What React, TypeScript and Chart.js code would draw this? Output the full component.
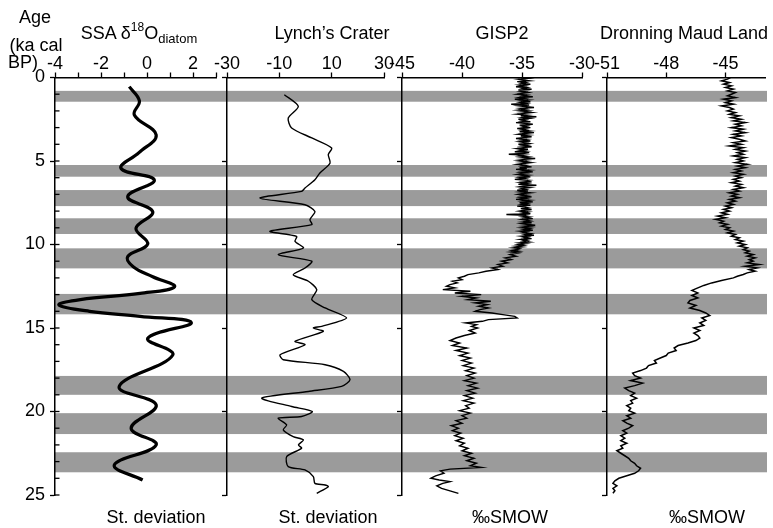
import React, { useEffect, useRef } from 'react';
import { Chart, registerables } from 'chart.js';
Chart.register(...registerables);

const W = 773;
const H = 528;
const FONT = '"Liberation Sans", Arial, Helvetica, sans-serif';

// Grey bands (ka cal BP)
const bandStarts = [0.8, 5.24, 6.74, 8.43, 10.23, 12.96, 17.87, 20.1, 22.44];
const bandEnds = [1.45, 5.94, 7.7, 9.37, 11.43, 14.18, 19.0, 21.35, 23.64];

// SSA d18O diatom (st. deviation)
const ssaAges = [0.55, 1.4, 2.25, 3.44, 4.5, 5.44, 6.14, 7.14, 8.04, 9.03, 9.97, 10.73, 11.33, 11.93, 12.53, 12.93, 13.3, 13.62, 14.0, 14.3, 14.68, 15.62, 16.62, 18.51, 19.61, 21.0, 22.0, 23.2, 24.1];
const ssaValues = [-0.77, -0.33, -0.55, 0.4, -0.35, -1.13, 0.32, -0.84, 0.25, -0.48, 0.03, -0.84, -0.6, 0.25, 1.2, -0.3, -2.9, -3.83, -2.5, -0.3, 1.93, 0.03, 1.12, -1.21, 0.4, -0.69, 0.4, -1.42, -0.19];

// Lynch's Crater (st. deviation)
const lynchAges = [1.03, 1.73, 2.43, 3.02, 3.62, 4.22, 4.62, 5.12, 5.72, 6.12, 6.62, 6.82, 7.22, 7.62, 8.02, 8.51, 8.81, 9.21, 9.51, 9.81, 10.21, 10.61, 11.0, 11.41, 11.81, 12.2, 12.7, 13.3, 13.8, 14.4, 14.9, 15.0, 15.2, 15.8, 16.0, 16.6, 16.9, 17.2, 17.6, 18.1, 18.5, 18.8, 19.2, 19.7, 20.0, 20.3, 20.4, 20.8, 21.1, 21.5, 21.7, 22.0, 22.2, 22.7, 23.3, 23.5, 23.9, 24.3, 24.4, 24.5, 24.9];
const lynchValues = [-8.1, -2.75, -6.6, -5.3, 2.4, 10.0, 8.7, 9.4, 5.5, 3.6, -0.2, -1.5, -17.4, -0.2, 3.6, 1.7, 2.4, -13.6, -3.4, -4.0, -0.8, -10.4, 2.4, -0.2, -4.7, 1.1, 4.3, 2.4, 7.5, 15.7, 6.2, 3.0, 6.8, -4.0, -0.2, -9.7, -8.5, 7.5, 14.5, 17.0, 13.8, 1.1, -16.7, -5.3, 2.6, -1.5, -10.4, -7.2, -8.5, -4.7, -0.8, -2.7, -1.5, -7.2, -6.6, -0.2, 3.0, 3.6, 7.5, 8.7, 4.3];

// GISP2 (permil SMOW)
const gispAges = [
  0, 0.05, 0.1, 0.15, 0.2, 0.25, 0.3, 0.35, 0.4, 0.45, 0.5, 0.55, 0.6, 0.65, 0.7, 0.75, 0.8, 0.85, 0.9, 0.95,
  1.0, 1.05, 1.1, 1.15, 1.2, 1.25, 1.3, 1.35, 1.4, 1.45, 1.5, 1.55, 1.6, 1.65, 1.7, 1.75, 1.8, 1.85, 1.9, 1.95,
  2.0, 2.05, 2.1, 2.15, 2.2, 2.25, 2.3, 2.35, 2.4, 2.45, 2.5, 2.55, 2.6, 2.65, 2.7, 2.75, 2.8, 2.85, 2.9, 2.95,
  3.0, 3.05, 3.1, 3.15, 3.2, 3.25, 3.3, 3.35, 3.4, 3.45, 3.5, 3.55, 3.6, 3.65, 3.7, 3.75, 3.8, 3.85, 3.9, 3.95,
  4.0, 4.05, 4.1, 4.15, 4.2, 4.25, 4.3, 4.35, 4.4, 4.45, 4.5, 4.55, 4.6, 4.65, 4.7, 4.75, 4.8, 4.85, 4.9, 4.95,
  5.0, 5.05, 5.1, 5.15, 5.2, 5.25, 5.3, 5.35, 5.4, 5.45, 5.5, 5.55, 5.6, 5.65, 5.7, 5.75, 5.8, 5.85, 5.9, 5.95,
  6.0, 6.05, 6.1, 6.15, 6.2, 6.25, 6.3, 6.35, 6.4, 6.45, 6.5, 6.55, 6.6, 6.65, 6.7, 6.75, 6.8, 6.85, 6.9, 6.95,
  7.0, 7.05, 7.1, 7.15, 7.2, 7.25, 7.3, 7.35, 7.4, 7.45, 7.5, 7.55, 7.6, 7.65, 7.7, 7.75, 7.8, 7.85, 7.9, 7.95,
  8.0, 8.05, 8.1, 8.15, 8.2, 8.25, 8.3, 8.35, 8.4, 8.45, 8.5, 8.55, 8.6, 8.65, 8.7, 8.75, 8.8, 8.85, 8.9, 8.95,
  9.0, 9.05, 9.1, 9.15, 9.2, 9.25, 9.3, 9.35, 9.4, 9.45, 9.5, 9.55, 9.6, 9.65, 9.7, 9.75, 9.8, 9.85, 9.9, 9.95,
  10.0, 10.05, 10.1, 10.15, 10.2, 10.25, 10.3, 10.35, 10.4, 10.45,
  10.5, 10.6, 10.7, 10.8, 10.9, 11.0, 11.1, 11.2, 11.3, 11.4, 11.5, 11.6, 11.7, 11.8, 11.9,
  12.0, 12.1, 12.2, 12.3, 12.4, 12.5, 12.6, 12.7, 12.8,
  12.9, 13.0, 13.1, 13.2, 13.3, 13.4, 13.5, 13.6, 13.7, 13.8, 13.9, 14.0, 14.1, 14.2, 14.3, 14.4, 14.5, 14.6, 14.7, 14.8, 14.9, 15.0,
  15.15, 15.3, 15.45, 15.6, 15.75, 15.9, 16.05, 16.2, 16.35, 16.5, 16.65, 16.8, 16.95, 17.1, 17.25, 17.4, 17.55, 17.7, 17.85, 18.0,
  18.15, 18.3, 18.45, 18.6, 18.75, 18.9, 19.05, 19.2, 19.35, 19.5, 19.65, 19.8, 19.95, 20.1, 20.25, 20.4, 20.55, 20.7, 20.85, 21.0,
  21.15, 21.3, 21.45, 21.6, 21.75, 21.9, 22.05, 22.2, 22.35, 22.5, 22.65, 22.8, 22.95, 23.1, 23.25, 23.35, 23.45, 23.55, 23.7, 23.85,
  24.0, 24.1, 24.2, 24.3, 24.45, 24.6, 24.75, 24.9
];
const gispValues = [
  -35.1, -34.5, -35.3, -34.9, -34.4, -35.4, -34.7, -35.0, -34.3, -35.2, -34.8, -35.5, -34.6, -34.9, -34.2, -35.3, -34.7, -35.1, -34.5, -35.0,
  -35.4, -34.6, -34.9, -34.1, -35.2, -34.8, -35.6, -34.5, -35.0, -34.3, -35.1, -34.7, -35.9, -34.4, -35.2, -34.6, -34.0, -35.1, -34.7, -35.3,
  -34.5, -35.0, -34.2, -34.8, -35.4, -34.6, -35.1, -33.8, -34.9, -34.4, -35.3, -34.7, -35.0, -34.3, -35.5, -34.8, -34.1, -35.2, -34.6, -34.9,
  -34.3, -35.4, -34.7, -35.0, -34.4, -35.2, -34.0, -34.8, -35.3, -34.5, -35.1, -34.2, -34.9, -35.5, -34.6, -35.0, -34.3, -35.2, -34.8, -34.4,
  -35.3, -34.6, -35.0, -34.2, -34.9, -35.4, -34.5, -35.1, -34.7, -35.6, -34.4, -34.9, -36.1, -34.8, -35.2, -34.5, -35.0, -33.9, -34.8, -35.3,
  -34.6, -35.1, -34.3, -34.9, -35.4, -34.7, -35.0, -34.2, -35.2, -34.6, -35.5, -34.4, -34.9, -34.1, -35.1, -34.7, -35.3, -34.5, -35.0, -34.3,
  -35.2, -34.8, -35.6, -34.5, -34.9, -34.2, -35.1, -34.6, -35.3, -33.8, -34.8, -35.2, -34.4, -35.0, -34.7, -35.4, -34.5, -35.1, -34.3, -34.9,
  -35.3, -34.6, -35.0, -34.2, -35.1, -34.7, -35.5, -34.4, -34.9, -34.1, -35.2, -34.6, -35.0, -34.3, -35.4, -34.8, -34.5, -35.1, -34.2, -34.8,
  -35.2, -34.5, -34.9, -34.3, -36.3, -34.7, -35.0, -34.4, -34.8, -34.1, -35.0, -34.6, -34.3, -34.9, -34.2, -35.0, -34.5, -33.9, -34.8, -34.3,
  -35.0, -34.4, -34.8, -34.1, -35.1, -34.6, -34.9, -34.3, -34.7, -34.0, -35.0, -34.5, -34.8, -34.2, -35.1, -34.6, -34.9, -34.4, -35.2, -34.7,
  -35.3, -34.9, -35.5, -35.0, -35.7, -35.2, -35.4, -35.8, -35.3, -35.9,
  -35.3, -36.0, -35.5, -36.4, -35.9, -36.7, -36.2, -37.0, -36.6, -37.5, -37.0, -38.0, -38.6, -39.5, -39.8,
  -40.3, -40.0, -40.8, -40.4, -41.0, -41.3, -40.6, -41.6, -39.3,
  -40.6, -38.4, -40.0, -38.8, -39.5, -37.6, -38.9, -37.9, -38.6, -37.8, -38.5, -38.9, -37.5, -36.6, -35.6, -35.4, -37.8, -38.3, -39.7, -38.8, -39.2, -38.7,
  -39.4, -38.9, -39.8, -40.5, -41.0, -40.2, -40.8, -39.6, -40.5, -39.5, -40.2, -39.3, -40.0, -39.2, -39.9, -39.0, -39.7, -38.9, -39.6, -39.0,
  -39.8, -38.8, -39.5, -38.7, -39.6, -38.9, -39.8, -39.1, -39.9, -39.0, -39.7, -39.4, -40.2, -39.3, -40.0, -39.6, -40.5, -40.0, -40.9, -40.3,
  -40.8, -40.1, -40.6, -39.9, -40.5, -39.8, -40.2, -39.5, -40.0, -39.2, -39.8, -39.0, -39.6, -38.8, -39.3, -38.4, -41.0, -41.8, -41.5, -42.2,
  -42.6, -41.9, -41.0, -41.6, -42.1, -41.7, -41.0, -40.3
];

// Dronning Maud Land (permil SMOW)
const dmlAges = [
  0, 0.1, 0.2, 0.3, 0.4, 0.5, 0.6, 0.7, 0.8, 0.9, 1.0, 1.1, 1.2, 1.3, 1.4, 1.5, 1.6, 1.7, 1.8, 1.9,
  2.0, 2.1, 2.2, 2.3, 2.4, 2.5, 2.6, 2.7, 2.8, 2.9, 3.0, 3.1, 3.2, 3.3, 3.4, 3.5, 3.6, 3.7, 3.8, 3.9,
  4.0, 4.1, 4.2, 4.3, 4.4, 4.5, 4.6, 4.7, 4.8, 4.9, 5.0, 5.1, 5.2, 5.3, 5.4, 5.5, 5.6, 5.7, 5.8, 5.9,
  6.0, 6.1, 6.2, 6.3, 6.4, 6.5, 6.6, 6.7, 6.8, 6.9, 7.0, 7.1, 7.2, 7.3, 7.4, 7.5, 7.6, 7.7, 7.8, 7.9,
  8.0, 8.1, 8.2, 8.3, 8.4, 8.5, 8.6, 8.7, 8.8, 8.9, 9.0, 9.1, 9.2, 9.3, 9.4, 9.5, 9.6, 9.7, 9.8, 9.9,
  10.0, 10.1, 10.2, 10.3, 10.4, 10.5, 10.6, 10.7, 10.8, 10.9, 11.0, 11.1, 11.2, 11.3, 11.4, 11.5, 11.6, 11.7, 11.8, 11.9,
  12.0, 12.15, 12.3, 12.45, 12.6, 12.75, 12.9, 13.05, 13.2, 13.35, 13.5, 13.65, 13.8, 13.95, 14.1, 14.25, 14.4, 14.55, 14.7, 14.85,
  15.0, 15.15, 15.3, 15.45, 15.6, 15.75, 15.9, 16.05, 16.2, 16.35, 16.5, 16.65, 16.8, 16.95, 17.1, 17.25, 17.4, 17.55, 17.7, 17.85,
  18.0, 18.15, 18.3, 18.45, 18.6, 18.75, 18.9, 19.05, 19.2, 19.35, 19.5, 19.65, 19.8, 19.95, 20.1, 20.25, 20.4, 20.55, 20.7, 20.85,
  21.0, 21.15, 21.3, 21.45, 21.6, 21.75, 21.9, 22.05, 22.2, 22.35, 22.5, 22.65, 22.8, 22.95, 23.1, 23.25, 23.4, 23.55, 23.7, 23.85,
  24.0, 24.15, 24.3, 24.45, 24.6, 24.75, 24.9
];
const dmlValues = [
  -44.75, -44.9, -45.2, -44.8, -45.1, -44.7, -45.0, -44.6, -44.9, -44.5, -44.7, -44.9, -44.5, -45.1, -44.7, -45.0, -44.6, -45.2, -44.8, -44.6,
  -44.9, -44.5, -44.8, -44.3, -44.7, -44.2, -44.6, -44.0, -44.5, -44.2, -44.7, -44.1, -44.5, -44.0, -44.6, -44.2, -44.7, -44.3, -44.0, -44.6,
  -44.2, -44.8, -44.1, -44.5, -44.0, -44.4, -44.1, -44.6, -44.0, -44.4, -44.1, -44.5, -43.9, -44.4, -44.0, -44.5, -44.2, -44.6, -44.1, -44.5,
  -44.2, -44.6, -44.3, -44.7, -44.2, -44.5, -44.1, -44.6, -44.3, -44.8, -44.4, -44.7, -44.3, -44.8, -44.5, -44.9, -44.6, -45.0, -44.7, -45.1,
  -44.8, -45.2, -44.9, -45.4, -45.0, -45.5, -45.1, -45.3, -44.9, -45.2, -44.8, -45.0, -44.6, -44.9, -44.5, -44.7, -44.3, -44.5, -44.1, -44.4,
  -44.0, -44.3, -43.9, -44.1, -43.8, -44.0, -43.6, -43.9, -43.5, -43.8, -43.6, -43.9, -43.3, -44.0, -43.4, -43.8, -43.5, -43.9, -44.1, -44.4,
  -44.6, -45.2, -45.7, -46.1, -46.4, -46.7, -46.4, -46.7, -46.4, -46.8, -46.9, -46.5, -46.8, -46.3, -46.0, -45.8, -46.2, -46.0, -46.3, -46.1,
  -46.6, -46.3, -46.6, -46.4, -46.3, -46.5, -46.9, -47.4, -47.6, -47.5, -47.9, -48.0, -48.3, -48.6, -48.5, -48.9, -49.0, -49.3, -49.7, -49.6,
  -49.3, -49.8, -49.2, -49.6, -50.1, -49.9, -49.6, -49.8, -49.5, -49.8, -49.7, -50.0, -49.8, -49.9, -49.6, -50.0, -49.8, -50.2, -50.0, -49.7,
  -49.9, -50.2, -50.0, -50.3, -50.1, -50.3, -50.0, -50.3, -50.2, -50.5, -50.3, -50.1, -49.9, -49.8, -49.6, -49.5, -49.3, -49.4, -49.6, -50.0,
  -50.4, -50.6, -50.7, -50.5, -50.7, -50.6, -50.7
];

// Axis ranges
const ssaRange = [-4, 3];
const lynchRange = [-30, 30];
const gispRange = [-45, -30];
const dmlRange = [-51, -43];

type PanelCfg = {
  ages: number[];
  values: number[];
  min: number;
  max: number;
  step: number;
  labelEvery: number;
  padLeft: number;
  yWidth: number;
  right: number;
  lineWidth: number;
  tension: number;
  first: boolean;
};

const PLOT_TOP = 77.5;
const PLOT_BOTTOM = 495;

function Panel({ cfg }: { cfg: PanelCfg }) {
  const ref = useRef<HTMLCanvasElement | null>(null);
  useEffect(() => {
    if (!ref.current) return;
    const tickFont = { family: FONT, size: 18 };
    const bandPlugin = {
      id: 'bands',
      beforeDraw(chart: any) {
        if (!cfg.first) return;
        const { ctx, chartArea } = chart;
        const ys = chart.scales.y;
        ctx.save();
        ctx.fillStyle = '#9b9b9b';
        for (let i = 0; i < bandStarts.length; i++) {
          const y1 = ys.getPixelForValue(bandStarts[i]);
          const y2 = ys.getPixelForValue(bandEnds[i]);
          ctx.fillRect(chartArea.left, y1, 767 - chartArea.left, y2 - y1);
        }
        ctx.restore();
      },
      afterDraw(chart: any) {
        if (!cfg.first) return;
        const { ctx, chartArea } = chart;
        const ys = chart.scales.y;
        ctx.save();
        ctx.strokeStyle = '#000';
        ctx.lineWidth = 1.3;
        for (let v = 1; v <= 25; v++) {
          const y = ys.getPixelForValue(v);
          ctx.beginPath();
          ctx.moveTo(chartArea.left, y);
          ctx.lineTo(chartArea.left + 4.5, y);
          ctx.stroke();
        }
        ctx.restore();
      },
    };
    const data = cfg.ages.map((a, i) => ({ x: cfg.values[i], y: a }));
    const chart = new Chart(ref.current, {
      type: 'line',
      data: {
        datasets: [
          {
            data,
            borderColor: '#000',
            borderWidth: cfg.lineWidth,
            pointRadius: 0,
            tension: cfg.tension,
            fill: false,
          },
        ],
      },
      options: {
        animation: false,
        responsive: false,
        maintainAspectRatio: false,
        indexAxis: 'y',
        layout: { padding: { left: cfg.padLeft, right: W - cfg.right, top: 0, bottom: H - PLOT_BOTTOM } },
        plugins: { legend: { display: false }, tooltip: { enabled: false } },
        scales: {
          x: {
            type: 'linear',
            position: 'top',
            min: cfg.min,
            max: cfg.max,
            ticks: {
              stepSize: cfg.step,
              includeBounds: false,
              autoSkip: false,
              maxRotation: 0,
              color: '#000',
              font: tickFont,
              padding: -2,
              callback: (v: any) => {
                const n = Number(v);
                return Math.abs(Math.round((n - cfg.min) / cfg.step) % cfg.labelEvery) === 0 ? String(n) : '';
              },
            },
            grid: { drawOnChartArea: false, tickLength: 5, tickColor: '#000', tickWidth: 1.3 },
            border: { display: true, color: '#000', width: 1.5 },
            afterFit: (s: any) => {
              s.height = PLOT_TOP;
            },
          } as any,
          y: {
            type: 'linear',
            position: 'left',
            reverse: true,
            min: 0,
            max: 25,
            ticks: {
              display: cfg.first,
              stepSize: cfg.first ? 1 : 5,
              autoSkip: false,
              color: '#000',
              font: tickFont,
              padding: 5,
              callback: (v: any) => (Number(v) % 5 === 0 ? String(v) : ''),
            },
            grid: {
              drawOnChartArea: false,
              tickLength: 5,
              tickWidth: 1.3,
              tickColor: (c: any) => (c.tick && c.tick.value % 5 === 0 ? '#000' : 'rgba(0,0,0,0)'),
            },
            border: { display: true, color: '#000', width: 1.5 },
            afterFit: (s: any) => {
              s.width = cfg.yWidth;
            },
          } as any,
        },
      },
      plugins: [bandPlugin],
    });
    return () => chart.destroy();
  }, []);
  return (
    <canvas
      ref={ref}
      width={W}
      height={H}
      style={{ position: 'absolute', left: 0, top: 0, width: W, height: H }}
    />
  );
}

const Txt = ({ cx, cy, children, size = 18 }: any) => (
  <div
    style={{
      position: 'absolute',
      left: cx,
      top: cy,
      transform: 'translate(-50%, -50%)',
      whiteSpace: 'nowrap',
      fontFamily: FONT,
      fontSize: size,
      lineHeight: 1,
      color: '#000',
      zIndex: 5,
    }}
  >
    {children}
  </div>
);

export default function App() {
  const panels: PanelCfg[] = [
    { ages: ssaAges, values: ssaValues, min: ssaRange[0], max: ssaRange[1], step: 1, labelEvery: 2, padLeft: 0, yWidth: 55, right: 216, lineWidth: 3.2, tension: 0.4, first: true },
    { ages: lynchAges, values: lynchValues, min: lynchRange[0], max: lynchRange[1], step: 20, labelEvery: 1, padLeft: 222, yWidth: 5, right: 384, lineWidth: 1.4, tension: 0.25, first: false },
    { ages: gispAges, values: gispValues, min: gispRange[0], max: gispRange[1], step: 5, labelEvery: 1, padLeft: 397, yWidth: 5, right: 582, lineWidth: 1.4, tension: 0, first: false },
    { ages: dmlAges, values: dmlValues, min: dmlRange[0], max: dmlRange[1], step: 3, labelEvery: 1, padLeft: 602, yWidth: 5, right: 765, lineWidth: 1.5, tension: 0, first: false },
  ];
  return (
    <div style={{ position: 'absolute', left: 0, top: 0, width: W, height: H, background: '#fff', overflow: 'hidden' }}>
      {panels.map((p, i) => (
        <Panel key={i} cfg={p} />
      ))}
      <Txt cx={35} cy={17}>Age</Txt>
      <Txt cx={36} cy={45}>(ka cal</Txt>
      <div style={{ position: 'absolute', left: 8, top: 53, fontFamily: FONT, fontSize: 18, lineHeight: 1, zIndex: 5 }}>BP)</div>
      <Txt cx={139} cy={33}>
        SSA δ<sup style={{ fontSize: 12, verticalAlign: 'top', position: 'relative', top: -3 }}>18</sup>O
        <sub style={{ fontSize: 13, verticalAlign: 'bottom', position: 'relative', top: 3 }}>diatom</sub>
      </Txt>
      <Txt cx={332} cy={33}>Lynch’s Crater</Txt>
      <Txt cx={502} cy={33}>GISP2</Txt>
      <Txt cx={684} cy={33}>Dronning Maud Land</Txt>
      <Txt cx={156} cy={517}>St. deviation</Txt>
      <Txt cx={328} cy={517}>St. deviation</Txt>
      <Txt cx={510} cy={517}>‰SMOW</Txt>
      <Txt cx={707} cy={517}>‰SMOW</Txt>
    </div>
  );
}
